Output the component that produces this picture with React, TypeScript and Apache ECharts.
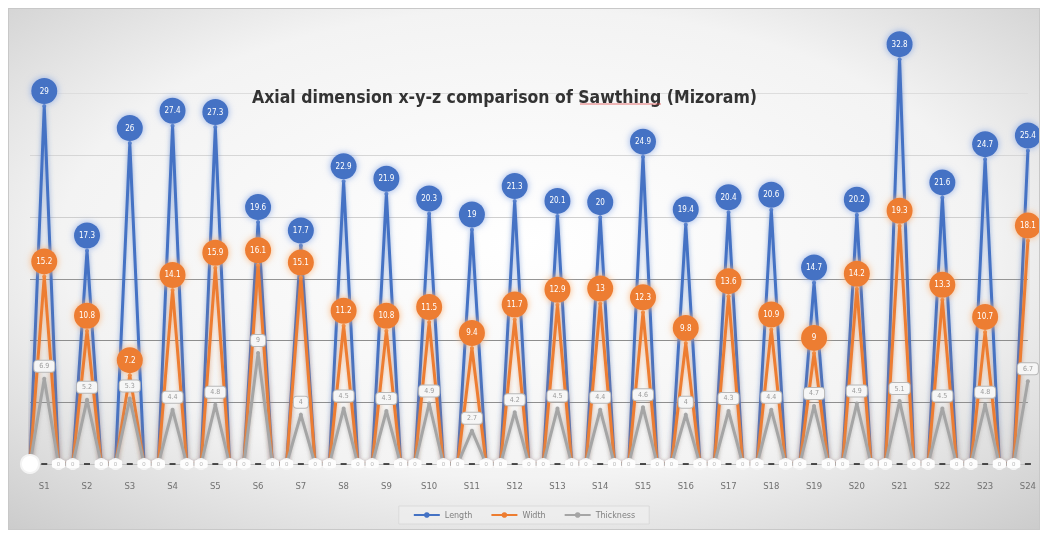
import React, { useEffect, useRef } from "react";
import * as echarts from "echarts";

// Sample identifiers along the x axis
const samples = [
  "S1", "S2", "S3", "S4", "S5", "S6", "S7", "S8", "S9", "S10", "S11", "S12",
  "S13", "S14", "S15", "S16", "S17", "S18", "S19", "S20", "S21", "S22", "S23", "S24",
];

// Axial dimensions per sample
const lengthValues = [
  29.0, 17.3, 26.0, 27.4, 27.3, 19.6, 17.7, 22.9, 21.9, 20.3, 19.0, 21.3,
  20.1, 20.0, 24.9, 19.4, 20.4, 20.6, 14.7, 20.2, 32.8, 21.6, 24.7, 25.4,
];
const widthValues = [
  15.2, 10.8, 7.2, 14.1, 15.9, 16.1, 15.1, 11.2, 10.8, 11.5, 9.4, 11.7,
  12.9, 13.0, 12.3, 9.8, 13.6, 10.9, 9.0, 14.2, 19.3, 13.3, 10.7, 18.1,
];
const thicknessValues = [
  6.9, 5.2, 5.3, 4.4, 4.8, 9.0, 4.0, 4.5, 4.3, 4.9, 2.7, 4.2,
  4.5, 4.4, 4.6, 4.0, 4.3, 4.4, 4.7, 4.9, 5.1, 4.5, 4.8, 6.7,
];

const TITLE = "Axial dimension x-y-z comparison of Sawthing (Mizoram)";

const BLUE = "#4472C4";
const ORANGE = "#ED7D31";
const GREY = "#A5A5A5";

// Each sample is drawn as a spike: baseline, value, baseline (last sample has no trailing baseline point)
function buildCategories(): string[] {
  const cats: string[] = [];
  samples.forEach((s, i) => {
    cats.push(s + "\u200a");
    cats.push(s);
    if (i < samples.length - 1) cats.push(s + "\u200b");
  });
  return cats;
}

function spikeData(values: number[], peakLabel: any, zeroItem: (idx: number) => any) {
  const out: any[] = [];
  let idx = 0;
  values.forEach((v, i) => {
    out.push(zeroItem(idx++));
    out.push({ value: v, label: peakLabel });
    idx++;
    if (i < values.length - 1) out.push(zeroItem(idx++));
  });
  return out;
}

function circleLabel(color: string, glow: string) {
  return {
    show: true,
    position: "top",
    distance: 0,
    formatter: "{c}",
    color: "#ffffff",
    fontSize: 8,
    fontFamily: "DejaVu Sans Condensed",
    backgroundColor: color,
    borderRadius: 13,
    width: 26,
    height: 26,
    lineHeight: 26,
    align: "center",
    shadowBlur: 7,
    shadowColor: glow,
  };
}

export default function App() {
  const ref = useRef<HTMLDivElement>(null);

  useEffect(() => {
    if (!ref.current) return;
    const chart = echarts.init(ref.current, undefined, { renderer: "svg" });
    const categories = buildCategories();

    const hiddenZero = () => ({ value: 0, symbolSize: 0, label: { show: false } });

    const thicknessZero = (idx: number) => ({
      value: 0,
      symbol: "emptyCircle",
      symbolSize: idx === 0 ? 18 : 10,
      itemStyle: { color: "#f4f4f4", borderColor: "#b4b4b4", borderWidth: idx === 0 ? 3 : 2 },
      label: {
        show: idx !== 0,
        position: "inside",
        formatter: "{c}",
        fontSize: 6,
        color: "#b8b8b8",
        backgroundColor: "#fdfdfd",
        padding: [1, 5],
        borderRadius: 2,
      },
    });

    const thicknessPeakLabel = {
      show: true,
      position: "top",
      distance: 5,
      formatter: "{c}",
      fontSize: 7,
      color: "#9a9a9a",
      fontFamily: "DejaVu Sans Condensed",
      backgroundColor: "#f6f6f6",
      borderColor: "#b8b8b8",
      borderWidth: 1,
      borderRadius: 3,
      padding: [2, 5],
    };

    const lineCommon = {
      type: "line",
      symbol: "circle",
      symbolSize: 4,
      showSymbol: true,
      showAllSymbol: true,
      labelLayout: { hideOverlap: false },
    };

    // Short dark ticks on the baseline under each sample
    const baselineTicks = categories.map((_, i) => (i % 3 === 1 ? 0 : "-"));

    chart.setOption({
      animation: false,
      backgroundColor: new echarts.graphic.RadialGradient(0.5, 0.45, 0.75, [
        { offset: 0, color: "#ffffff" },
        { offset: 0.6, color: "#f3f3f3" },
        { offset: 1, color: "#cbcbcb" },
      ]),
      title: {
        text: TITLE,
        left: 238,
        top: 74,
        textStyle: {
          fontFamily: "DejaVu Sans Condensed",
          fontWeight: "bold",
          fontSize: 17.5,
          color: "#333333",
        },
      },
      grid: { left: 21, right: 10, top: 23, bottom: 65, containLabel: false },
      legend: {
        data: ["Length", "Width", "Thickness"],
        left: "center",
        bottom: 5,
        itemWidth: 26,
        itemHeight: 7,
        itemGap: 18,
        padding: [5, 14],
        backgroundColor: "rgba(238,238,238,0.7)",
        borderColor: "rgba(215,215,215,0.8)",
        borderWidth: 1,
        textStyle: { fontSize: 8, color: "#7f7f7f", fontFamily: "DejaVu Sans" },
      },
      xAxis: {
        type: "category",
        data: categories,
        boundaryGap: false,
        axisLine: { show: true, lineStyle: { color: "#c0c0c0", width: 1 } },
        axisTick: { show: false },
        axisLabel: {
          interval: (i: number) => i % 3 === 1,
          fontSize: 8.5,
          color: "#707070",
          margin: 17,
          fontFamily: "DejaVu Sans",
        },
        splitLine: { show: false },
      },
      yAxis: {
        type: "value",
        min: 0,
        max: 35,
        interval: 5,
        axisLabel: { show: false },
        axisLine: { show: false },
        axisTick: { show: false },
        splitLine: {
          lineStyle: {
            color: ["#b0b0b0", "#8e8e8e", "#8e8e8e", "#959595", "#cfcfcf", "#d6d6d6", "#dddddd", "rgba(0,0,0,0)"],
            width: 1,
          },
        },
      },
      series: [
        {
          ...lineCommon,
          name: "Length",
          z: 2,
          itemStyle: { color: BLUE },
          lineStyle: { color: BLUE, width: 3, shadowBlur: 5, shadowColor: "rgba(68,114,196,0.6)" },
          data: spikeData(lengthValues, circleLabel(BLUE, "rgba(140,170,230,0.95)"), hiddenZero),
        },
        {
          ...lineCommon,
          name: "Width",
          z: 3,
          itemStyle: { color: ORANGE },
          lineStyle: { color: ORANGE, width: 3, shadowBlur: 5, shadowColor: "rgba(237,125,49,0.55)" },
          data: spikeData(widthValues, circleLabel(ORANGE, "rgba(250,180,120,0.95)"), hiddenZero),
        },
        {
          ...lineCommon,
          name: "Thickness",
          z: 4,
          itemStyle: { color: GREY },
          lineStyle: { color: GREY, width: 3, shadowBlur: 4, shadowColor: "rgba(150,150,150,0.5)" },
          data: spikeData(thicknessValues, thicknessPeakLabel, thicknessZero),
        },
        {
          name: "ticks",
          type: "scatter",
          silent: true,
          z: 5,
          symbol: "rect",
          symbolSize: [6, 2],
          itemStyle: { color: "#262626" },
          data: baselineTicks,
        },
      ],
      graphic: [
        {
          type: "line",
          z: 100,
          shape: { x1: 571, y1: 95, x2: 652, y2: 95 },
          style: { stroke: "rgba(225,70,70,0.75)", lineWidth: 1 },
        },
      ],
    });

    return () => chart.dispose();
  }, []);

  return (
    <div
      ref={ref}
      style={{
        position: "fixed",
        left: 8,
        top: 8,
        width: 1032,
        height: 522,
        border: "1px solid #c8c8c8",
        boxSizing: "border-box",
      }}
    />
  );
}
